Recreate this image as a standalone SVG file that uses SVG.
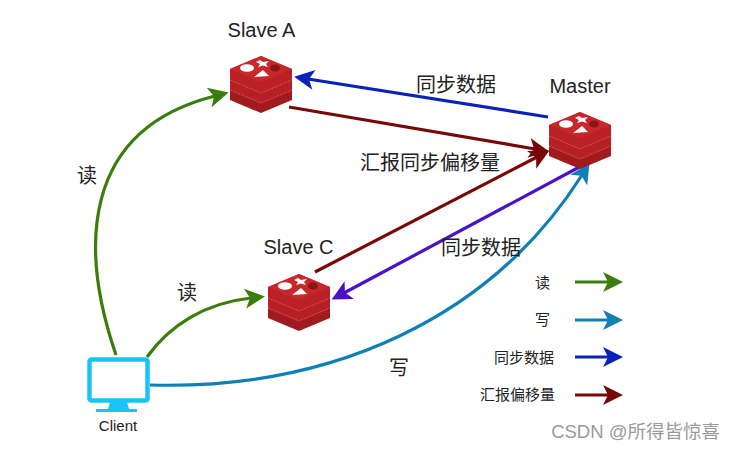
<svg xmlns="http://www.w3.org/2000/svg" width="736" height="450" viewBox="0 0 736 450">
<style>
.t{font-family:"Liberation Sans",Arial,"Noto Sans CJK SC",sans-serif;fill:#222}
.c{fill:none;stroke-width:3.2}
.l{font-size:20px}.z{font-size:15px}
.green{stroke:#3a7d0c}.blue{stroke:#0f7fb5}.sync{stroke:#0b22b8}.rep{stroke:#780808}.purple{stroke:#4a12c8}
</style>
<defs>
<marker id="ag" markerUnits="userSpaceOnUse" markerWidth="24" markerHeight="24" refX="8" refY="12" orient="auto"><path d="M2 2L22 12L2 22L7 12Z" fill="#3a7d0c"/></marker>
<marker id="ab" markerUnits="userSpaceOnUse" markerWidth="24" markerHeight="24" refX="8" refY="12" orient="auto"><path d="M2 2L22 12L2 22L7 12Z" fill="#0f7fb5"/></marker>
<marker id="as" markerUnits="userSpaceOnUse" markerWidth="24" markerHeight="24" refX="8" refY="12" orient="auto"><path d="M2 2L22 12L2 22L7 12Z" fill="#0b22b8"/></marker>
<marker id="ar" markerUnits="userSpaceOnUse" markerWidth="24" markerHeight="24" refX="8" refY="12" orient="auto"><path d="M2 2L22 12L2 22L7 12Z" fill="#780808"/></marker>
<marker id="ap" markerUnits="userSpaceOnUse" markerWidth="24" markerHeight="24" refX="8" refY="12" orient="auto"><path d="M2 2L22 12L2 22L7 12Z" fill="#4a12c8"/></marker>
<g id="redis">
<path d="M0 20L31 7L62 20V31L31 44L0 31Z" fill="#a11a1f"/>
<path d="M0 10L31 -3L62 10V21L31 34L0 21Z" fill="#b51f25"/>
<path d="M0 21L31 34L62 21" fill="none" stroke="#e86a6a" stroke-width=".7" stroke-dasharray="2 1"/>
<path d="M0 0L31 -13L62 0V11L31 24L0 11Z" fill="#bb2127"/>
<path d="M0 11L31 24L62 11" fill="none" stroke="#e86a6a" stroke-width=".7" stroke-dasharray="2 1"/>
<path d="M0 0L31 -13L62 0L31 13Z" fill="#c8272c"/>
<ellipse cx="17" cy="-1" rx="7" ry="3.800" fill="#fff"/>
<path d="M30 -9L33 -7L39 -8L36 -5L38 -2L33 -3.500L28 -2L30 -5L26 -7Z" fill="#fff"/>
<path d="M24 8L33 1L39 7Z" fill="#fff"/>
<ellipse cx="45" cy="-1" rx="5" ry="3.500" fill="#8c1417"/>
</g>
</defs>
<rect width="736" height="450" fill="#fff"/>
<g id="connectors">
<path class="c sync" d="M548 117L308 79" marker-end="url(#as)"/>
<path class="c rep" d="M289 107L535 149" marker-end="url(#ar)"/>
<path class="c rep" d="M315 272L537 157" marker-end="url(#ar)"/>
<path class="c purple" d="M585 164L344 293" marker-end="url(#ap)"/>
<path class="c green" d="M116 355C80 250 80 130 215 96" marker-end="url(#ag)"/>
<path class="c green" d="M147 357C170 325 205 303 251 298" marker-end="url(#ag)"/>
<path class="c blue" d="M150 385C330 390 490 320 582 175" marker-end="url(#ab)"/>
<path class="c green" d="M575 282H609" marker-end="url(#ag)"/>
<path class="c blue" d="M575 320H609" marker-end="url(#ab)"/>
<path class="c sync" d="M575 357H609" marker-end="url(#as)"/>
<path class="c rep" d="M575 395H609" marker-end="url(#ar)"/>
</g>
<g id="slave-a"><use href="#redis" x="230" y="69"/><text class="t l" x="261.500" y="37" text-anchor="middle">Slave A</text></g>
<g id="master"><use href="#redis" x="549" y="125"/><text class="t l" x="580" y="93" text-anchor="middle">Master</text></g>
<g id="slave-c"><use href="#redis" x="268" y="287"/><text class="t l" x="298.500" y="254" text-anchor="middle">Slave C</text></g>
<g id="client">
<rect x="89.500" y="359.500" width="58" height="41" rx="2" fill="#fff" stroke="#19c3f5" stroke-width="4.500"/>
<path d="M110 402H127L129 409H137V412H96V409H108Z" fill="#19c3f5"/>
<text class="t" x="118" y="431" font-size="15" text-anchor="middle">Client</text>
</g>
<g id="labels">
<text class="t l" x="456" y="92" text-anchor="middle">同步数据</text>
<text class="t l" x="430" y="170" text-anchor="middle">汇报同步偏移量</text>
<text class="t l" x="481" y="255" text-anchor="middle">同步数据</text>
<text class="t l" x="87" y="183" text-anchor="middle">读</text>
<text class="t l" x="187" y="300" text-anchor="middle">读</text>
<text class="t l" x="399" y="375" text-anchor="middle">写</text>
<text class="t z" x="550" y="288" text-anchor="end">读</text>
<text class="t z" x="550" y="325" text-anchor="end">写</text>
<text class="t z" x="554" y="363" text-anchor="end">同步数据</text>
<text class="t z" x="555" y="400" text-anchor="end">汇报偏移量</text>
<text x="720" y="438" font-size="18.500" text-anchor="end" fill="#9a9a9a" font-family="'Liberation Sans','Noto Sans CJK SC',sans-serif">CSDN @所得皆惊喜</text>
</g>
</svg>
